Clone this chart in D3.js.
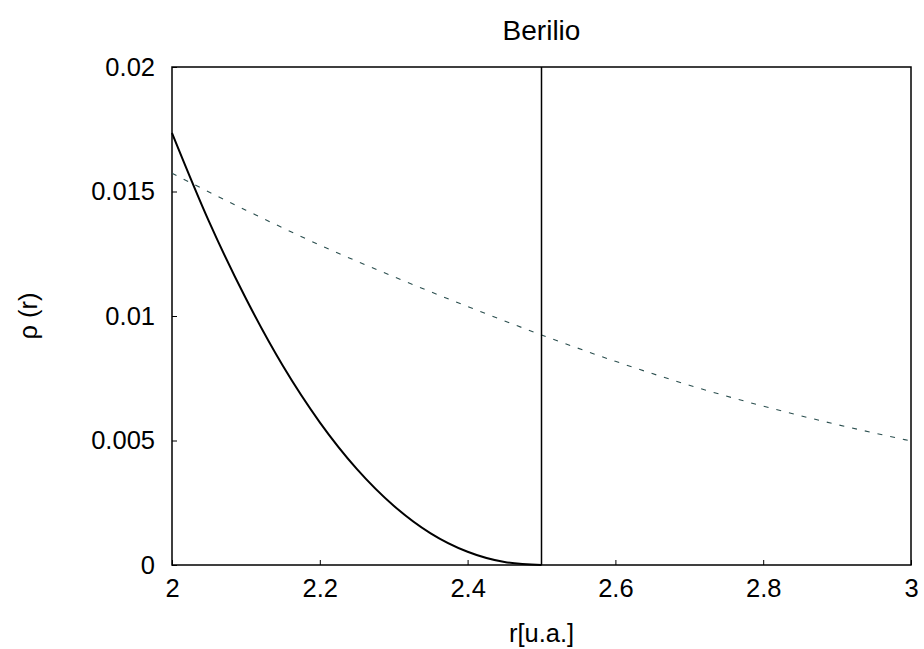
<!DOCTYPE html>
<html><head><meta charset="utf-8">
<script src="https://cdn.jsdelivr.net/npm/d3@7"></script>
<style>body{margin:0;background:#fff}svg{display:block}text{font-family:"Liberation Sans",Arial,sans-serif;fill:#000}</style>
</head><body><svg id="c" width="924" height="649"></svg>
<script>
const title = "Berilio";
const xLabel = "r[u.a.]";
const yLabel = "ρ (r)";
const xTicks = [2, 2.2, 2.4, 2.6, 2.8, 3];
const xTickLabels = ["2", "2.2", "2.4", "2.6", "2.8", "3"];
const yTicks = [0, 0.005, 0.01, 0.015, 0.02];
const yTickLabels = ["0", "0.005", "0.01", "0.015", "0.02"];
// solid curve (r, rho)
const solidR = [2.0, 2.05, 2.1, 2.15, 2.2, 2.25, 2.3, 2.35, 2.4, 2.45, 2.5];
const solidV = [0.01735, 0.0138, 0.0107, 0.0080, 0.00573, 0.00386, 0.00238, 0.00127, 0.00053, 0.00012, 0];
// dashed curve
const dashR = [2.0, 2.1, 2.2, 2.3, 2.4, 2.5, 2.6, 2.7, 2.8, 2.9, 3.0];
const dashV = [0.01573, 0.01425, 0.01285, 0.01158, 0.01038, 0.00924, 0.00818, 0.00722, 0.00638, 0.00564, 0.00498];
const cutoff = 2.5;

const svg = d3.select("#c");
const L = 172, R = 911, T = 67, B = 565;
const x = d3.scaleLinear().domain([2, 3]).range([L, R]);
const y = d3.scaleLinear().domain([0, 0.02]).range([B, T]);
const fs = 25.5;

// ticks (inward)
const gx = svg.append("g").attr("transform", `translate(0,${B})`)
  .call(d3.axisBottom(x).tickValues(xTicks).tickFormat((d,i)=>xTickLabels[i]).tickSizeInner(-5).tickSizeOuter(0).tickPadding(14));
gx.select(".domain").remove();
gx.selectAll("line").attr("stroke","#000");
gx.selectAll("text").style("font-size", fs+"px").attr("dy","0.71em");

const gy = svg.append("g").attr("transform", `translate(${L},0)`)
  .call(d3.axisLeft(y).tickValues(yTicks).tickFormat((d,i)=>yTickLabels[i]).tickSizeInner(-5).tickSizeOuter(0).tickPadding(17));
gy.select(".domain").remove();
gy.selectAll("line").attr("stroke","#000");
gy.selectAll("text").style("font-size", fs+"px");

// frame
svg.append("rect").attr("x", L).attr("y", T).attr("width", R-L).attr("height", B-T)
  .attr("fill","none").attr("stroke","#000").attr("stroke-width",1.5);

// dashed curve
const dashData = dashR.map((r,i)=>[r, dashV[i]]);
svg.append("path").datum(dashData)
  .attr("d", d3.line().x(d=>x(d[0])).y(d=>y(d[1])).curve(d3.curveMonotoneX))
  .attr("fill","none").attr("stroke","#2b4f4f").attr("stroke-width",1.1).attr("stroke-dasharray","5,8");

// solid curve
const solidData = solidR.map((r,i)=>[r, solidV[i]]);
svg.append("path").datum(solidData)
  .attr("d", d3.line().x(d=>x(d[0])).y(d=>y(d[1])).curve(d3.curveMonotoneX))
  .attr("fill","none").attr("stroke","#000").attr("stroke-width",2);

// vertical cutoff line
svg.append("line").attr("x1", x(cutoff)).attr("x2", x(cutoff)).attr("y1", y(0)).attr("y2", y(0.02))
  .attr("stroke","#000").attr("stroke-width",1.5);

// title & labels
svg.append("text").attr("x", (L+R)/2).attr("y", 40).attr("text-anchor","middle").style("font-size","28px").text(title);
svg.append("text").attr("x", (L+R)/2).attr("y", 642).attr("text-anchor","middle").style("font-size",fs+"px").text(xLabel);
svg.append("text").attr("transform", `translate(37,${(T+B)/2}) rotate(-90)`).attr("text-anchor","middle").style("font-size",fs+"px").text(yLabel);
</script></body></html>
